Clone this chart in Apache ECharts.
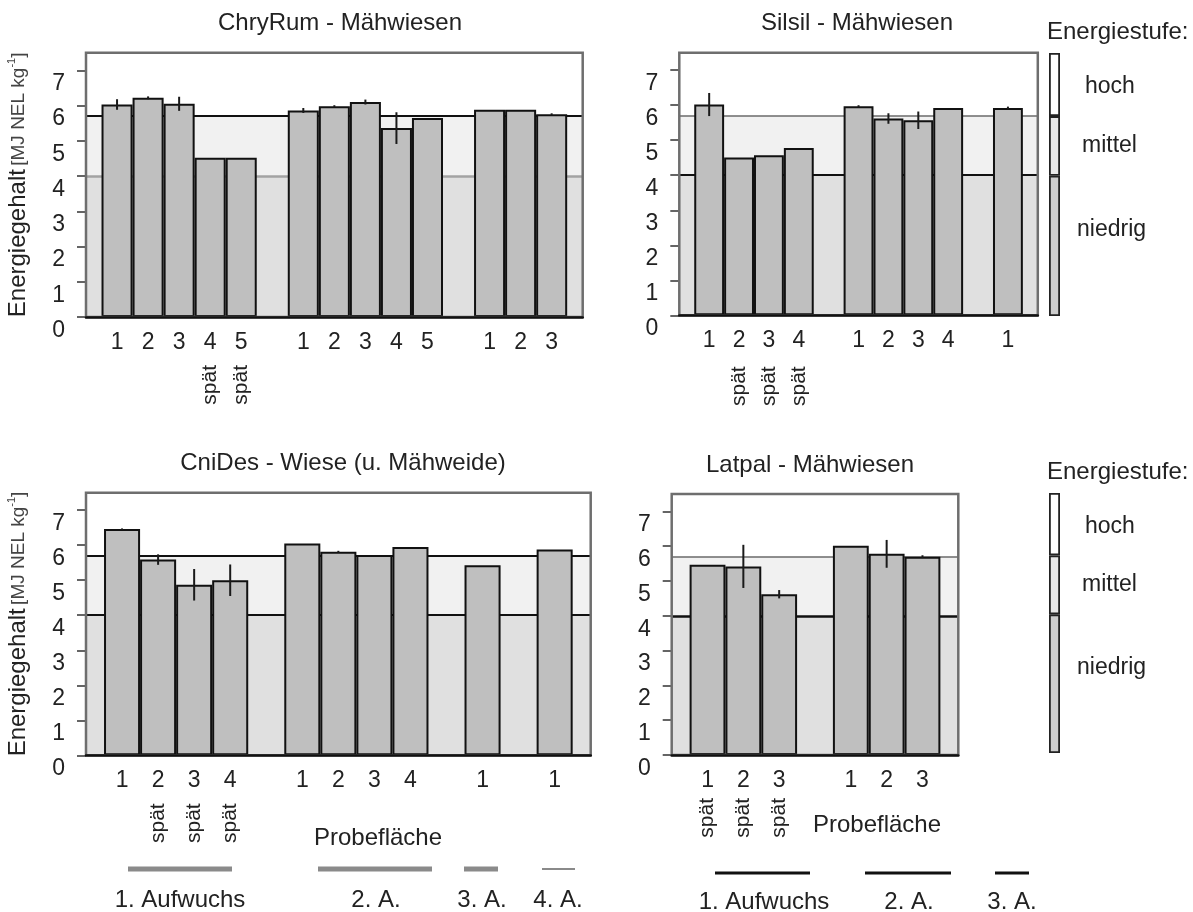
<!DOCTYPE html>
<html><head><meta charset="utf-8">
<script src="https://cdn.jsdelivr.net/npm/echarts@6/dist/echarts.min.js"></script>
<style>html,body{margin:0;padding:0;background:#fff}#c{width:1193px;height:912px}</style>
</head><body><div id="c"></div>
<script>
// ---------------- data ----------------
const yTicks = [0, 1, 2, 3, 4, 5, 6, 7];
const yMax = 7.5;
const levelBounds = [4.0, 5.7];               // niedrig | mittel | hoch
const levelNames = ['niedrig', 'mittel', 'hoch'];
const legendTitle = 'Energiestufe:';
const lateLabel = 'spät';
const xAxisTitle = 'Probefläche';

const chryRumTitle = 'ChryRum - Mähwiesen';
const chryRumGroups = [5, 5, 3];
const chryRumPlots = ['1', '2', '3', '4', '5', '1', '2', '3', '4', '5', '1', '2', '3'];
const chryRumLate = [0, 0, 0, 1, 1, 0, 0, 0, 0, 0, 0, 0, 0];
const chryRumMeans = [6.03, 6.22, 6.05, 4.52, 4.52, 5.86, 5.98, 6.10, 5.36, 5.65, 5.88, 5.88, 5.75];
const chryRumErrors = [0.15, 0.04, 0.2, 0, 0, 0.07, 0.03, 0.07, 0.45, 0, 0, 0, 0.03];

const silsilTitle = 'Silsil - Mähwiesen';
const silsilGroups = [4, 4, 1];
const silsilPlots = ['1', '2', '3', '4', '1', '2', '3', '4', '1'];
const silsilLate = [0, 1, 1, 1, 0, 0, 0, 0, 0];
const silsilMeans = [6.02, 4.51, 4.57, 4.78, 5.97, 5.62, 5.57, 5.92, 5.92];
const silsilErrors = [0.33, 0, 0, 0, 0.03, 0.15, 0.25, 0, 0.04];

const cniDesTitle = 'CniDes - Wiese (u. Mähweide)';
const cniDesGroups = [4, 4, 1, 1];
const cniDesPlots = ['1', '2', '3', '4', '1', '2', '3', '4', '1', '1'];
const cniDesLate = [0, 1, 1, 1, 0, 0, 0, 0, 0, 0];
const cniDesMeans = [6.46, 5.59, 4.87, 5.0, 6.05, 5.81, 5.72, 5.95, 5.43, 5.88];
const cniDesErrors = [0.02, 0.15, 0.45, 0.45, 0, 0.03, 0, 0, 0, 0];
const cniDesGrowths = ['1. Aufwuchs', '2. A.', '3. A.', '4. A.'];

const latpalTitle = 'Latpal - Mähwiesen';
const latpalGroups = [3, 3];
const latpalPlots = ['1', '2', '3', '1', '2', '3'];
const latpalLate = [1, 1, 1, 0, 0, 0];
const latpalMeans = [5.47, 5.42, 4.62, 6.01, 5.78, 5.70];
const latpalErrors = [0, 0.62, 0.12, 0, 0.4, 0.04];
const latpalGrowths = ['1. Aufwuchs', '2. A.', '3. A.'];

// ---------------- layout / style ----------------
const FONT = "'Liberation Sans', Arial, Helvetica, sans-serif";
const TXT = '#222';
const bandColors = ['#e0e0e0', '#f1f1f1', '#ffffff'];
const legendColors = ['#cdcdcd', '#e9e9e9', '#ffffff'];

const panels = [
  { title: chryRumTitle, groups: chryRumGroups, plots: chryRumPlots, late: chryRumLate, means: chryRumMeans, errors: chryRumErrors,
    rect: { left: 86, top: 52.7, width: 496.7, height: 264.3 }, titleXY: [340, 23], showName: true,
    low: { color: '#a3a3a3', width: 2.5 }, high: { color: '#111', width: 2 }, numMargin: 14, lateMargin: 48 },
  { title: silsilTitle, groups: silsilGroups, plots: silsilPlots, late: silsilLate, means: silsilMeans, errors: silsilErrors,
    rect: { left: 679.3, top: 52.7, width: 358.5, height: 262.6 }, titleXY: [857, 23], showName: false,
    low: { color: '#111', width: 2 }, high: { color: '#6a6a6a', width: 1.5 }, numMargin: 14, lateMargin: 51,
    legend: { left: 1049, top: 53, width: 11, height: 263, titleXY: [1047, 32] } },
  { title: cniDesTitle, groups: cniDesGroups, plots: cniDesPlots, late: cniDesLate, means: cniDesMeans, errors: cniDesErrors,
    rect: { left: 86, top: 492.7, width: 504.7, height: 262.6 }, titleXY: [343, 463], showName: true,
    low: { color: '#111', width: 2 }, high: { color: '#111', width: 2 }, numMargin: 14, lateMargin: 48,
    xTitleXY: [378, 838],
    growths: cniDesGrowths, growthLineY: 869, growthTextY: 900,
    growthLines: [[128, 232, 5], [318, 432, 5], [464, 498, 5], [542, 575, 2]], growthTextX: [180, 376, 482, 558], growthColor: '#8a8a8a' },
  { title: latpalTitle, groups: latpalGroups, plots: latpalPlots, late: latpalLate, means: latpalMeans, errors: latpalErrors,
    rect: { left: 671.7, top: 494, width: 286.6, height: 261 }, titleXY: [810, 465], showName: false,
    low: { color: '#111', width: 2.5 }, high: { color: '#6a6a6a', width: 1.5 }, numMargin: 14, lateMargin: 43,
    xTitleXY: [877, 825],
    growths: latpalGrowths, growthLineY: 873, growthTextY: 902,
    growthLines: [[715, 810, 3], [865, 951, 3], [995, 1029, 3]], growthTextX: [764, 909, 1012], growthColor: '#111',
    legend: { left: 1049, top: 493, width: 11, height: 260, titleXY: [1047, 472] } }
];
const legendLabelTweaks = [ { dist: 17, dy: -16 }, { dist: 22, dy: 0 }, { dist: 25, dy: 2 } ];

function slotPositions(groups) {
  const pos = []; let p = 1;
  groups.forEach(n => { for (let k = 0; k < n; k++) pos.push(p++); p++; });
  return pos;
}

const option = {
  animation: false,
  backgroundColor: '#fff',
  textStyle: { fontFamily: FONT, color: TXT },
  grid: [], xAxis: [], yAxis: [], series: [], graphic: []
};

panels.forEach(p => {
  const gi = option.grid.length;
  option.grid.push(Object.assign({ show: true, borderColor: '#6e6e6e', borderWidth: 2.5, backgroundColor: 'transparent', z: 3 }, p.rect));
  const pos = slotPositions(p.groups);
  const maxX = p.means.length + p.groups.length;
  const labelAt = {}; pos.forEach((x, k) => { labelAt[x] = p.plots[k]; });
  const latePos = pos.filter((x, k) => p.late[k]);

  const xi = option.xAxis.length;
  option.xAxis.push({
    type: 'value', gridIndex: gi, min: 0, max: maxX, position: 'bottom', z: 4,
    axisLine: { show: true, onZero: false, lineStyle: { color: '#111', width: 2.5 } },
    axisTick: { show: false }, splitLine: { show: false },
    axisLabel: { customValues: pos, formatter: v => labelAt[v] || '', margin: p.numMargin, fontSize: 23, color: TXT, fontFamily: FONT, hideOverlap: false }
  });
  option.xAxis.push({
    type: 'value', gridIndex: gi, min: 0, max: maxX, position: 'bottom',
    axisLine: { show: false }, axisTick: { show: false }, splitLine: { show: false },
    axisLabel: { customValues: latePos, formatter: () => lateLabel, rotate: 90, margin: p.lateMargin, fontSize: 21, color: TXT, fontFamily: FONT, hideOverlap: false }
  });
  const yi = option.yAxis.length;
  option.yAxis.push({
    type: 'value', gridIndex: gi, min: 0, max: yMax,
    axisLine: { show: false }, splitLine: { show: false },
    axisTick: { show: true, customValues: yTicks, length: 9, lineStyle: { color: '#333', width: 1.5 } },
    axisLabel: { customValues: yTicks, margin: 21, fontSize: 23, lineHeight: 27, verticalAlign: 'top', color: TXT, fontFamily: FONT },
    name: p.showName ? '{a|Energiegehalt} {b|[MJ NEL kg}{s|-1}{b|]}' : '',
    nameLocation: 'middle', nameRotate: 90, nameGap: 55,
    nameTextStyle: { color: TXT, rich: {
      a: { fontSize: 24, fontFamily: FONT, color: TXT },
      b: { fontSize: 19, fontFamily: FONT, color: '#444' },
      s: { fontSize: 11, fontFamily: FONT, color: '#444', padding: [0, 0, 14, 0] }
    } }
  });

  const bounds = [0].concat(levelBounds, [yMax]);
  option.series.push({
    type: 'bar', xAxisIndex: xi, yAxisIndex: yi, z: 2,
    data: pos.map((x, k) => [x, p.means[k]]),
    barWidth: '100%',
    itemStyle: { color: '#bfbfbf', borderColor: '#111', borderWidth: 2 },
    markArea: { silent: true, z: 0, data: bandColors.map((c, k) => [
      { coord: [0, bounds[k]], itemStyle: { color: c } }, { coord: [maxX, bounds[k + 1]] }
    ]) },
    markLine: { silent: true, z: 1, symbol: 'none', label: { show: false },
      data: [ { yAxis: levelBounds[0], lineStyle: { color: p.low.color, width: p.low.width, type: 'solid' } },
              { yAxis: levelBounds[1], lineStyle: { color: p.high.color, width: p.high.width, type: 'solid' } } ] }
  });
  option.series.push({
    type: 'custom', xAxisIndex: xi, yAxisIndex: yi, z: 5,
    data: pos.map((x, k) => [x, p.means[k], p.errors[k]]).filter(d => d[2] > 0),
    encode: { x: 0, y: 1 },
    renderItem: (params, api) => {
      const x = api.value(0), m = api.value(1), e = api.value(2);
      const a = api.coord([x, m - e]), b = api.coord([x, m + e]);
      return { type: 'line', shape: { x1: a[0], y1: a[1], x2: b[0], y2: b[1] }, style: { stroke: '#1a1a1a', lineWidth: 2 } };
    }
  });

  // title
  option.graphic.push({ type: 'text', x: p.titleXY[0], y: p.titleXY[1],
    style: { text: p.title, fontSize: 24, fontFamily: FONT, fill: TXT, align: 'center', verticalAlign: 'middle' } });

  if (p.xTitleXY) {
    option.graphic.push({ type: 'text', x: p.xTitleXY[0], y: p.xTitleXY[1],
      style: { text: xAxisTitle, fontSize: 24, fontFamily: FONT, fill: TXT, align: 'center', verticalAlign: 'middle' } });
  }
  if (p.growths) {
    p.growths.forEach((g, k) => {
      const ln = p.growthLines[k];
      option.graphic.push({ type: 'line', shape: { x1: ln[0], y1: p.growthLineY, x2: ln[1], y2: p.growthLineY },
        style: { stroke: p.growthColor, lineWidth: ln[2] } });
      option.graphic.push({ type: 'text', x: p.growthTextX[k], y: p.growthTextY,
        style: { text: g, fontSize: 24, fontFamily: FONT, fill: TXT, align: 'center', verticalAlign: 'middle' } });
    });
  }

  if (p.legend) {
    const L = p.legend;
    const lg = option.grid.length;
    option.grid.push({ left: L.left, top: L.top, width: L.width, height: L.height, show: false });
    const lx = option.xAxis.length;
    option.xAxis.push({ type: 'category', gridIndex: lg, data: [legendTitle], show: false });
    const ly = option.yAxis.length;
    option.yAxis.push({ type: 'value', gridIndex: lg, min: 0, max: yMax, show: false });
    const segs = bounds.slice(1).map((b, k) => b - bounds[k]);
    segs.forEach((v, k) => {
      option.series.push({
        type: 'bar', name: levelNames[k], xAxisIndex: lx, yAxisIndex: ly, stack: 'lvl' + lg,
        data: [v], barWidth: '100%',
        itemStyle: { color: legendColors[k], borderColor: '#222', borderWidth: 1.8 },
        label: { show: true, position: 'right', distance: legendLabelTweaks[k].dist, offset: [0, legendLabelTweaks[k].dy],
          formatter: levelNames[k], fontSize: 23, fontFamily: FONT, color: TXT }
      });
    });
    option.graphic.push({ type: 'text', x: L.titleXY[0], y: L.titleXY[1],
      style: { text: legendTitle, fontSize: 24, fontFamily: FONT, fill: TXT, align: 'left', verticalAlign: 'middle' } });
  }
});

const chart = echarts.init(document.getElementById('c'), null, { renderer: 'canvas' });
chart.setOption(option);
</script>
</body></html>
